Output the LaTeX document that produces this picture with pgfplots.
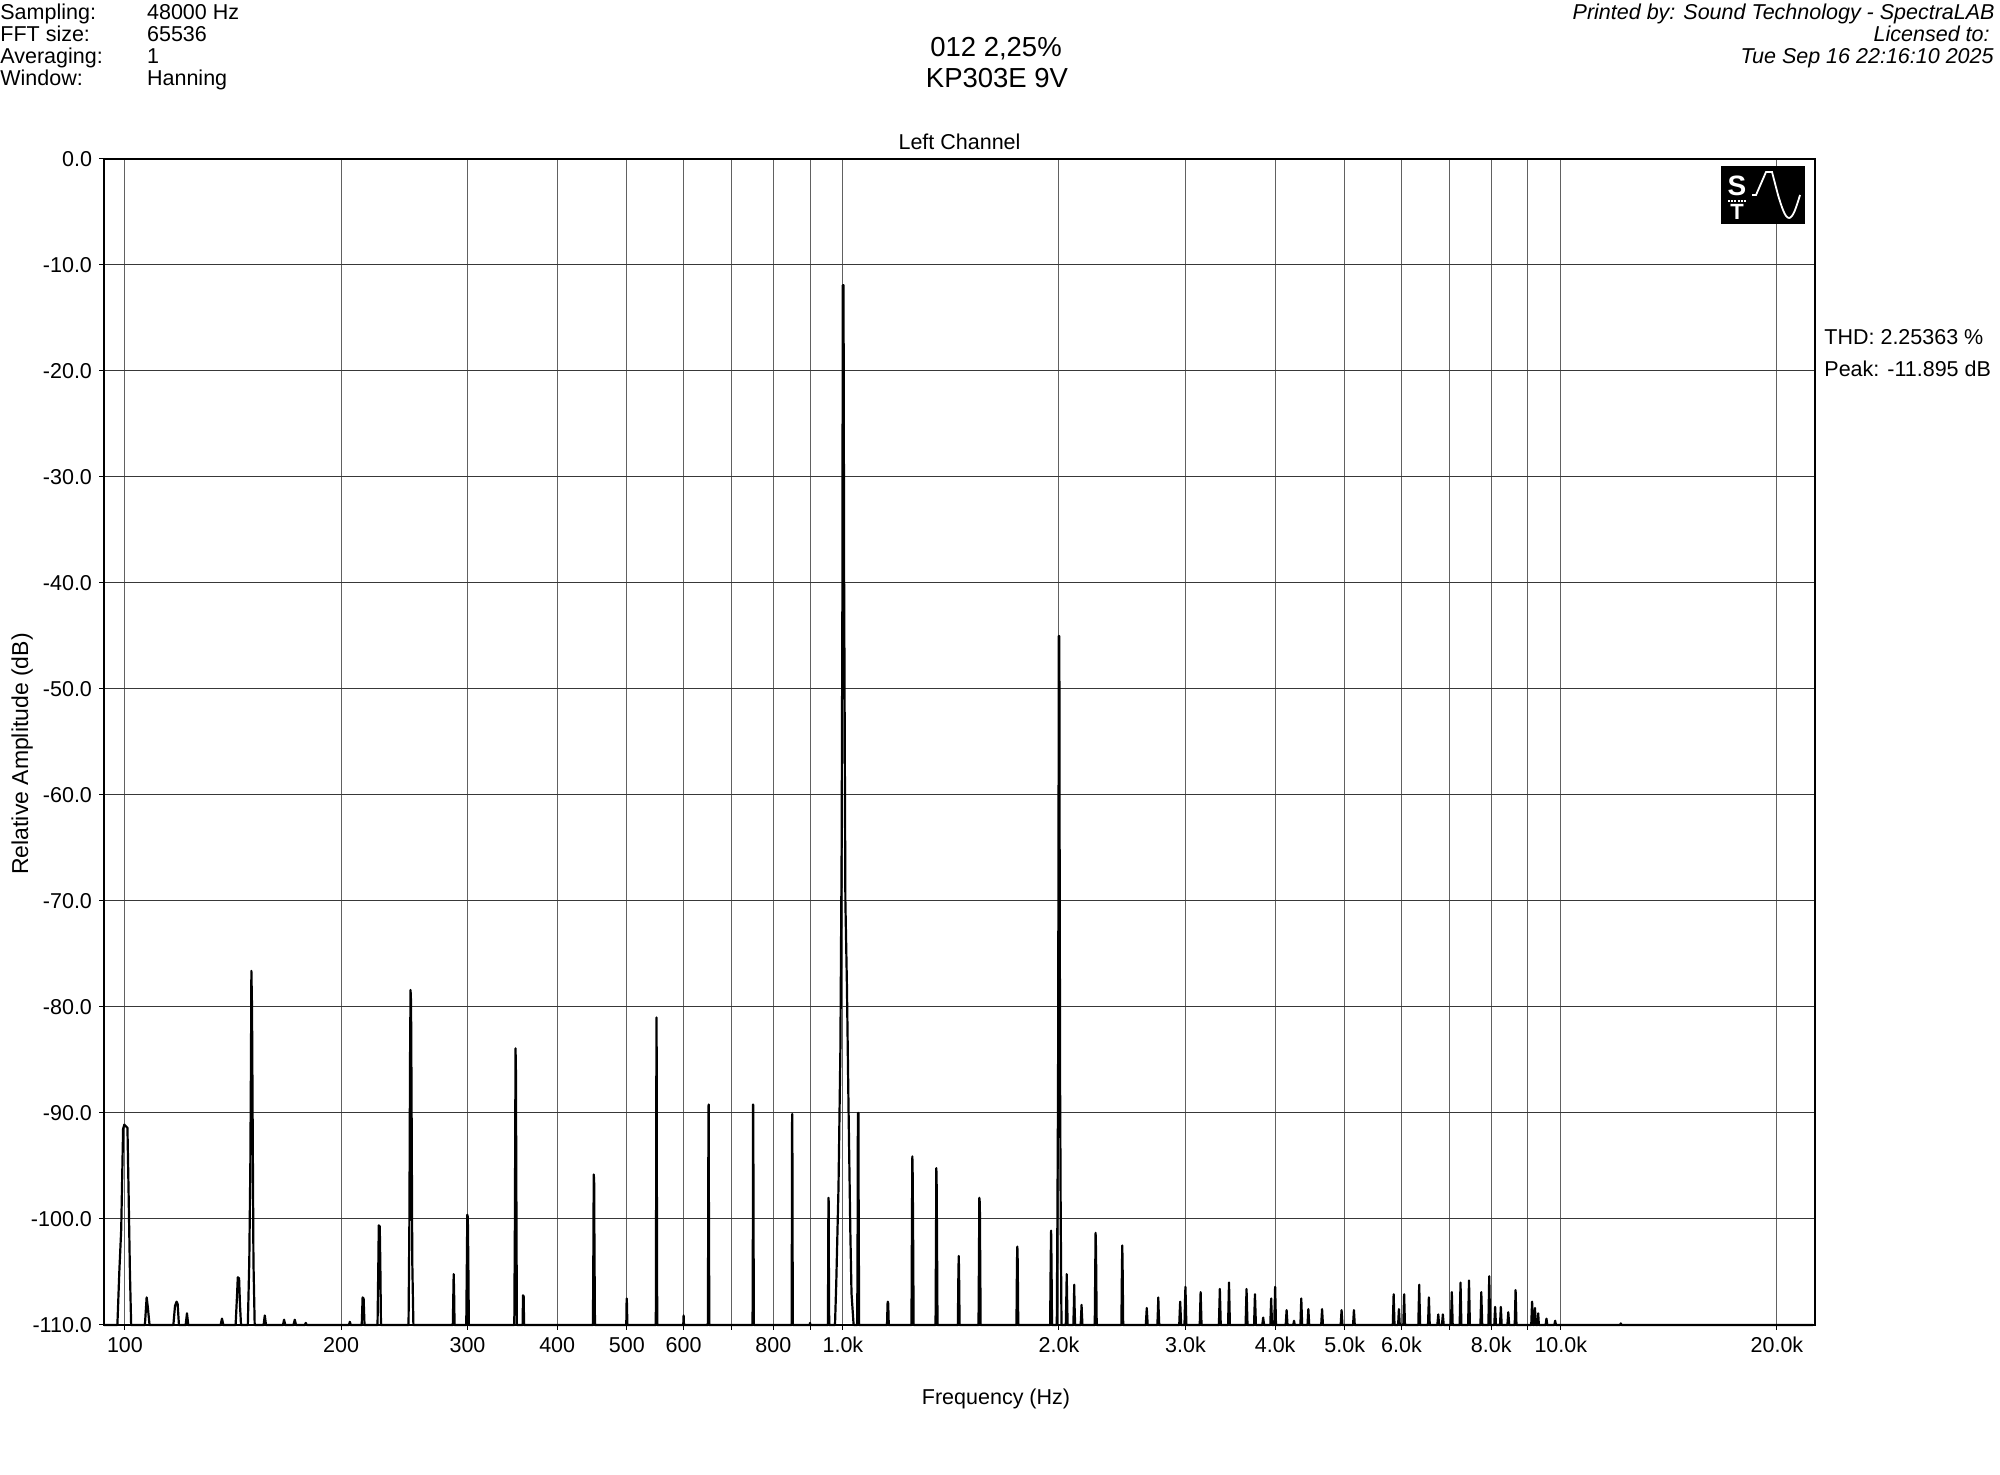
\documentclass[border=0pt]{standalone}
\usepackage{pgfplots}
\pgfplotsset{compat=1.18}
\usepackage{fontspec}
\setmainfont{Liberation Sans}
\newcommand{\fs}{\fontsize{10.75}{12}\selectfont}
\begin{document}
\begin{tikzpicture}
\path[use as bounding box] (0,0) rectangle (1000pt,737.5pt);
\begin{axis}[
 at={(52pt,75pt)}, anchor=south west,
 scale only axis, width=855.5pt, height=583pt,
 xmode=log, xmin=93.5, xmax=22600, ymin=-110, ymax=0,
 xtick={100,200,300,400,500,600,700,800,900,1000,2000,3000,4000,5000,6000,7000,8000,9000,10000,20000},
 xticklabels={100,200,300,400,500,600,,800,,1.0k,2.0k,3.0k,4.0k,5.0k,6.0k,,8.0k,,10.0k,20.0k},
 xminorticks=false,
 ytick={-110,-100,...,0},
 yticklabels={-110.0,-100.0,-90.0,-80.0,-70.0,-60.0,-50.0,-40.0,-30.0,-20.0,-10.0,0.0},
 grid=major,
 x grid style={black!62, line width=0.5pt},
 y grid style={black!78, line width=0.5pt},
 tick pos=left,
 tick align=outside, major tick length=2.5pt,
 tick style={black, line width=0.5pt},
 axis line style={black, line width=0.6pt},
 ticklabel style={font=\fs},
 clip=false,
]
\addplot[black, line width=1.1pt, line join=round] coordinates {
(93.5,-110)
(97.6,-110) (98.2,-105) (98.8,-101) (99.4,-91.5) (99.8,-91.1) (100.8,-91.4) (101.2,-98) (101.6,-105) (102,-110)
(106.6,-110) (107.2,-107.4) (107.6,-108.3) (108.2,-110)
(116.8,-110) (117.4,-108.2) (118,-107.8) (118.4,-108) (118.9,-110)
(121.5,-110) (122,-108.9) (122.5,-110)
(135.9,-110) (136.5,-109.4) (137.1,-110)
(142.6,-110) (143.3,-107) (143.6,-105.5) (144.2,-105.6) (144.6,-108) (145.1,-110)
(148.3,-110) (149.0,-104) (149.5,-95) (149.8,-85) (150.0,-76.6) (150.3,-80) (150.6,-90) (151.0,-104) (151.6,-110)
(156,-110) (156.6,-109.1) (157.2,-110)
(166,-110) (166.6,-109.5) (167.2,-110)
(171.7,-110) (172.4,-109.5) (173.1,-110)
(178.1,-110) (178.6,-109.8) (179.1,-110)
(205.1,-110) (205.7,-109.7) (206.3,-110)
(213.7,-110) (214.3,-107.4) (215.0,-107.5) (215.6,-110)
(224.8,-110) (225.4,-104) (225.7,-100.6) (226.4,-100.7) (226.8,-104) (227.3,-110)
(248.3,-110) (249.0,-100) (249.5,-85) (249.9,-78.4) (250.3,-79.5) (250.7,-88) (251.3,-104) (252.2,-110)
(286.2,-110) (286.7,-107) (287,-105.2) (287.4,-107) (287.8,-110)
(298.8,-110) (299.4,-104) (299.8,-99.6) (300.3,-99.8) (300.8,-104) (301.3,-110)
(348.6,-110) (349.3,-100) (349.7,-90) (350,-83.9) (350.4,-86) (350.8,-95) (351.5,-110)
(358,-110) (358.5,-107.2) (359.2,-107.3) (359.7,-110)
(448.6,-110) (449.3,-102) (449.7,-95.8) (450.3,-96.3) (450.8,-103) (451.5,-110)
(499.2,-110) (499.8,-107.5) (500.3,-108) (500.9,-110)
(548.8,-110) (549.5,-95) (549.9,-81) (550.2,-81) (550.6,-95) (551.3,-110)
(599.3,-110) (600,-109.1) (600.7,-110)
(648.5,-110) (649.3,-100) (649.7,-89.5) (650.2,-89.2) (650.8,-100) (651.6,-110)
(748.5,-110) (749.4,-100) (749.8,-89.2) (750.3,-89.3) (750.8,-100) (751.6,-110)
(848.3,-110) (849.2,-100) (849.7,-90.1) (850.3,-90.1) (850.8,-100) (851.7,-110)
(899.2,-110) (900,-109.8) (900.8,-110)
(953,-110) (954,-104) (954.6,-98) (955.3,-98.2) (956,-104) (957,-110)
(975,-110) (979,-106) (986,-97) (992,-84) (996,-65) (998.5,-40) (999.5,-11.9) (1002,-11.9) (1004,-40) (1008,-70) (1013,-78) (1018,-89) (1021,-95) (1024,-101) (1028,-107) (1035,-110)
(1047,-110) (1048.5,-100) (1049.3,-90) (1051,-90) (1052,-100) (1053.5,-110)
(1152,-110) (1154,-108) (1155,-107.8) (1156.5,-108) (1158.5,-110)
(1246,-110) (1248,-100) (1249.5,-94.1) (1251,-96) (1253,-103) (1254.5,-110)
(1346,-110) (1348,-102) (1349.5,-95.2) (1351,-97) (1353,-104) (1354.5,-110)
(1446,-110) (1448.5,-105) (1450,-103.5) (1451.5,-105) (1454,-110)
(1545,-110) (1547.5,-103) (1549,-98) (1551.5,-98.5) (1553.5,-104) (1555.5,-110)
(1745,-110) (1748,-104) (1750,-102.6) (1752,-104) (1755,-110)
(1944,-110) (1947.5,-104) (1950,-101.1) (1952.5,-104) (1956,-110)
(1986,-110) (1990,-100) (1994,-87.5) (1997,-65) (1999,-45) (2002,-45) (2004,-65) (2007,-87.5) (2011,-100) (2016,-110)
(2044,-110) (2048,-107) (2050,-105.2) (2052,-107) (2056,-110)
(2094,-110) (2098,-108) (2100,-106.2) (2102,-108) (2106,-110)
(2144,-110) (2148,-108.8) (2150,-108.1) (2152,-108.8) (2156,-110)
(2243,-110) (2247,-104) (2249,-101.3) (2252,-103) (2257,-110)
(2443,-110) (2447,-105) (2450,-102.5) (2453,-105) (2457,-110)
(2642,-110) (2647,-109) (2650,-108.4) (2653,-109) (2658,-110)
(2742,-110) (2747,-108.5) (2750,-107.4) (2753,-108.5) (2758,-110)
(2941,-110) (2947,-108.5) (2950,-107.8) (2953,-108.5) (2959,-110)
(2991,-110) (2997,-107.5) (3000,-106.4) (3003,-107.5) (3009,-110)
(3141,-110) (3150,-106.9) (3159,-110)
(3340,-110) (3350,-106.6) (3360,-110)
(3440,-110) (3450,-106.0) (3460,-110)
(3639,-110) (3650,-106.6) (3661,-110)
(3739,-110) (3750,-107.1) (3761,-110)
(3839,-110) (3850,-109.3) (3861,-110)
(3939,-110) (3950,-107.5) (3961,-110)
(3989,-110) (4000,-106.4) (4011,-110)
(4138,-110) (4150,-108.6) (4162,-110)
(4240,-110) (4250,-109.6) (4260,-110)
(4338,-110) (4350,-107.5) (4362,-110)
(4438,-110) (4450,-108.5) (4462,-110)
(4637,-110) (4650,-108.5) (4663,-110)
(4936,-110) (4950,-108.6) (4964,-110)
(5136,-110) (5150,-108.6) (5164,-110)
(5834,-110) (5850,-107.1) (5866,-110)
(5934,-110) (5950,-108.5) (5966,-110)
(6034,-110) (6050,-107.1) (6066,-110)
(6332,-110) (6350,-106.2) (6368,-110)
(6532,-110) (6550,-107.4) (6568,-110)
(6731,-110) (6750,-109) (6769,-110)
(6831,-110) (6850,-109) (6869,-110)
(7030,-110) (7050,-106.9) (7070,-110)
(7230,-110) (7250,-106.0) (7270,-110)
(7429,-110) (7450,-105.8) (7471,-110)
(7728,-110) (7750,-106.9) (7772,-110)
(7928,-110) (7950,-105.4) (7972,-110)
(8078,-110) (8100,-108.3) (8122,-110)
(8228,-110) (8250,-108.3) (8272,-110)
(8426,-110) (8450,-108.8) (8474,-110)
(8626,-110) (8650,-106.7) (8674,-110)
(9095,-110) (9120,-107.8) (9145,-110)
(9185,-110) (9205,-108.4) (9225,-110)
(9280,-110) (9300,-108.9) (9320,-110)
(9525,-110) (9550,-109.4) (9575,-110)
(9795,-110) (9820,-109.6) (9845,-110)
(12090,-110) (12120,-109.85) (12150,-110)
(22450,-110)
};
\end{axis}
\begin{scope}[x=0.5pt, y=-0.5pt, shift={(0pt,737.5pt)}]
\begin{scope}[every node/.style={inner sep=0pt, font=\fs}]
\node[anchor=base west] at (0,19.7) {Sampling:};
\node[anchor=base west] at (146.7,19.7) {48000 Hz};
\node[anchor=base west] at (0,41.5) {FFT size:};
\node[anchor=base west] at (146.7,41.5) {65536};
\node[anchor=base west] at (0,63.3) {Averaging:};
\node[anchor=base west] at (146.7,63.3) {1};
\node[anchor=base west] at (0,85.5) {Window:};
\node[anchor=base west] at (146.7,85.5) {Hanning};
\node[anchor=base east, font=\fs\itshape] at (1995,20) {Printed by: Sound Technology - SpectraLAB};
\node[anchor=base east, font=\fs\itshape] at (1990,42) {Licensed to:};
\node[anchor=base east, font=\fs\itshape] at (1994,64) {Tue Sep 16 22:16:10 2025};
\node[anchor=base, font=\fontsize{13.75}{15}\selectfont] at (996,56.5) {012 2,25\%};
\node[anchor=base, font=\fontsize{13.75}{15}\selectfont] at (997,87.5) {KP303E 9V};
\node[anchor=base] at (959.5,150) {Left Channel};
\node[anchor=base west] at (1824,345) {THD: 2.25363 \%};
\node[anchor=base west] at (1824,377) {Peak: -11.895 dB};
\node[anchor=base] at (996,1405) {Frequency (Hz)};
\node[anchor=base, rotate=90, font=\fontsize{11.5}{12}\selectfont] at (28,754) {Relative Amplitude (dB)};
\end{scope}
% logo
\fill[black] (1721,166) rectangle (1805,224);
\node[white, inner sep=0pt, font=\bfseries\fontsize{14}{14}\selectfont] at (1737,186) {S};
\draw[white, line width=1.2pt, dash pattern=on 1pt off 0.6pt] (1728,201) -- (1747,201);
\node[white, inner sep=0pt, font=\bfseries\fontsize{11}{11}\selectfont] at (1737,212) {T};
\draw[white, line width=0.9pt] (1752,195) -- (1756,195) -- (1766,172) -- (1772,172) -- (1778,195) sin (1789,218) cos (1800,195);
\end{scope}
\end{tikzpicture}
\end{document}
